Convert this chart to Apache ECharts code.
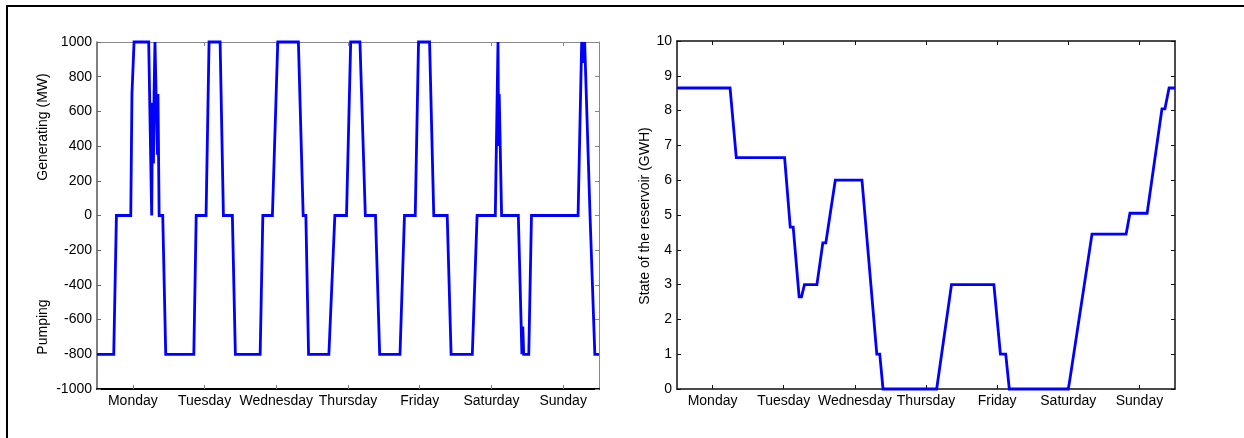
<!DOCTYPE html>
<html>
<head>
<meta charset="utf-8">
<script src="https://cdn.jsdelivr.net/npm/echarts@6/dist/echarts.min.js"></script>
<style>
  html, body { margin: 0; padding: 0; background: #fff; }
  #chart { width: 1244px; height: 438px; }
</style>
</head>
<body>
<div id="chart"></div>
<script>
// Weekly operation of a pumped-storage plant (hours 0..168)
const days = ['Monday', 'Tuesday', 'Wednesday', 'Thursday', 'Friday', 'Saturday', 'Sunday'];
const dayTicks = [12, 36, 60, 84, 108, 132, 156];

// Generating (+) / pumping (-) power, MW, as breakpoints in hours
const genHours = [0, 5.6, 6.5, 11.3, 11.7, 12.4, 17.3, 18.3, 18.6, 18.9, 19.1, 19.4, 19.9, 20.2, 20.4, 20.8,
  22.0, 23.0, 32.4, 33.2, 36.5, 37.5, 41.2, 42.3, 45.3, 46.3, 54.6, 55.5, 58.7, 60.5, 67.4, 69.0,
  69.9, 70.8, 77.6, 79.6, 83.5, 84.9, 88.0, 89.8, 93.2, 94.6, 101.4, 102.9, 106.5, 107.6, 111.3, 112.7,
  117.2, 118.5, 125.6, 127.2, 133.3, 134.2, 134.4, 134.6, 135.4, 141.0, 142.2, 142.5, 142.8, 144.5, 145.4,
  161.0, 162.2, 162.6, 162.9, 163.2, 163.8, 165.0, 165.4, 166.6, 168];
const genMW = [-800, -800, 0, 0, 700, 1000, 1000, 0, 650, 300, 700, 1000, 1000, 350, 700, 0,
  0, -800, -800, 0, 0, 1000, 1000, 0, 0, -800, -800, 0, 0, 1000, 1000, 0,
  0, -800, -800, 0, 0, 1000, 1000, 0, 0, -800, -800, 0, 0, 1000, 1000, 0,
  0, -800, -800, 0, 0, 1000, 400, 700, 0, 0, -800, -640, -800, -800, 0,
  0, 1000, 1000, 880, 1000, 1000, 0, 0, -800, -800];

// State of the reservoir, GWh, as breakpoints in hours
const resHours = [0, 17.9, 20.0, 36.3, 38.2, 39.2, 41.2, 42.0, 43.0, 47.2, 49.2, 50.2, 53.4, 62.4, 67.4, 68.4,
  69.5, 87.6, 92.6, 106.9, 109.1, 110.9, 112.1, 132.0, 132.5, 140.0, 151.5, 152.8, 158.6, 163.6, 164.6, 166.0, 168];
const resGWh = [8.65, 8.65, 6.65, 6.65, 4.65, 4.65, 2.65, 2.65, 3.0, 3.0, 4.2, 4.2, 6.0, 6.0, 1.0, 1.0,
  0, 0, 3.0, 3.0, 1.0, 1.0, 0, 0, 0.25, 4.45, 4.45, 5.05, 5.05, 8.05, 8.05, 8.65, 8.65];

const FONT = "'Liberation Sans', Arial, Helvetica, sans-serif";
const BLUE = '#0000ff';

function pairs(xs, ys) { return xs.map((x, i) => [x, ys[i]]); }

function dayAxis(gridIndex, position, withLabels, lineColor, lineWidth, tickColor) {
  return {
    type: 'value', gridIndex, position, min: 0, max: 168,
    splitLine: { show: false },
    axisLine: { show: true, onZero: false, lineStyle: { color: lineColor, width: lineWidth } },
    axisTick: { show: true, inside: true, length: 4, customValues: dayTicks, lineStyle: { color: tickColor, width: 1 } },
    axisLabel: {
      show: withLabels, customValues: dayTicks, margin: 5,
      color: '#000', fontFamily: FONT, fontSize: 14,
      formatter: v => days[Math.round((v - 12) / 24)] || ''
    }
  };
}

function valueAxis(gridIndex, position, min, max, interval, withLabels, lineColor, lineWidth, tickColor) {
  return {
    type: 'value', gridIndex, position, min, max, interval,
    splitLine: { show: false },
    axisLine: { show: true, onZero: false, lineStyle: { color: lineColor, width: lineWidth } },
    axisTick: { show: true, inside: true, length: 4, lineStyle: { color: tickColor, width: 1 } },
    axisLabel: {
      show: withLabels, margin: 5, color: '#000', fontFamily: FONT, fontSize: 14,
      formatter: v => String(v)
    }
  };
}

const chart = echarts.init(document.getElementById('chart'), null, { renderer: 'canvas' });

chart.setOption({
  animation: false,
  backgroundColor: '#fff',
  grid: [
    { left: 97, top: 42, width: 502, height: 347 },
    { left: 677, top: 41, width: 498, height: 348 }
  ],
  xAxis: [
    dayAxis(0, 'bottom', true, '#000', 2, '#777'),
    dayAxis(0, 'top', false, '#888', 1, '#888'),
    dayAxis(1, 'bottom', true, '#111', 1.5, '#111'),
    dayAxis(1, 'top', false, '#111', 1.5, '#111')
  ],
  yAxis: [
    valueAxis(0, 'left', -1000, 1000, 200, true, '#555', 1.5, '#666'),
    valueAxis(0, 'right', -1000, 1000, 200, false, '#888', 1, '#888'),
    valueAxis(1, 'left', 0, 10, 1, true, '#111', 1.5, '#111'),
    valueAxis(1, 'right', 0, 10, 1, false, '#111', 1.5, '#111')
  ],
  series: [
    {
      type: 'line', xAxisIndex: 0, yAxisIndex: 0, data: pairs(genHours, genMW),
      showSymbol: false, clip: false, z: 5,
      lineStyle: { color: BLUE, width: 2.8, join: 'miter' }
    },
    {
      type: 'line', xAxisIndex: 2, yAxisIndex: 2, data: pairs(resHours, resGWh),
      showSymbol: false, clip: false, z: 5,
      lineStyle: { color: BLUE, width: 2.8, join: 'miter' }
    }
  ],
  graphic: [
    // figure frame
    { type: 'polyline', shape: { points: [[7, 438], [7, 6], [1244, 6]] }, style: { stroke: '#000', lineWidth: 2, fill: null }, silent: true },
    { type: 'text', x: 43, y: 127, rotation: Math.PI / 2,
      style: { text: 'Generating (MW)', fill: '#000', font: `14px ${FONT}`, align: 'center', verticalAlign: 'middle' } },
    { type: 'text', x: 43, y: 327, rotation: Math.PI / 2,
      style: { text: 'Pumping', fill: '#000', font: `14px ${FONT}`, align: 'center', verticalAlign: 'middle' } },
    { type: 'text', x: 645, y: 216, rotation: Math.PI / 2,
      style: { text: 'State of the reservoir (GWH)', fill: '#000', font: `14px ${FONT}`, align: 'center', verticalAlign: 'middle' } }
  ]
});
</script>
</body>
</html>
